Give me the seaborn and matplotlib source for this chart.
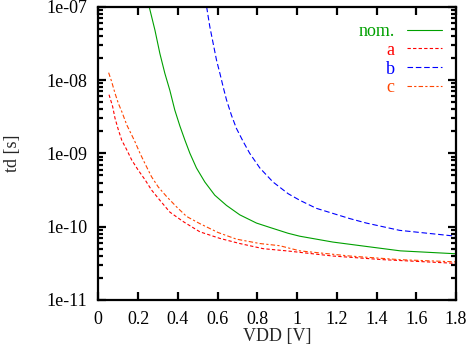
import numpy as np
import pandas as pd
import matplotlib
matplotlib.use("Agg")
import matplotlib.pyplot as plt
import matplotlib.ticker as mticker
import seaborn as sns

sns.set_style("ticks")
plt.rcParams['font.family'] = ['Liberation Serif', 'DejaVu Serif']
plt.rcParams['font.size'] = 13

# values (VDD in V, td in s)
vdd_nom = [0.256, 0.285, 0.31, 0.335, 0.36, 0.385, 0.411, 0.436, 0.461, 0.494, 0.536, 0.586, 0.645,
           0.712, 0.796, 0.863, 0.955, 1.014, 1.18, 1.35, 1.52, 1.8]
td_nom = [1.0e-7, 4.79e-8, 2.29e-8, 1.23e-8, 7.24e-9, 3.89e-9, 2.34e-9, 1.51e-9, 1.0e-9, 6.31e-10,
          4.07e-10, 2.69e-10, 1.95e-10, 1.45e-10, 1.12e-10, 9.77e-11, 8.13e-11, 7.41e-11, 6.17e-11,
          5.37e-11, 4.68e-11, 4.27e-11]

vdd_a = [0.054, 0.072, 0.084, 0.101, 0.118, 0.143, 0.168, 0.201, 0.235, 0.268, 0.31, 0.36, 0.428,
         0.511, 0.612, 0.712, 0.83, 0.947, 1.18, 1.432, 1.8]
td_a = [6.31e-9, 4.37e-9, 3.02e-9, 2.09e-9, 1.51e-9, 1.12e-9, 8.13e-10, 5.89e-10, 4.37e-10, 3.16e-10,
        2.29e-10, 1.58e-10, 1.17e-10, 8.51e-11, 6.92e-11, 5.89e-11, 5.01e-11, 4.68e-11, 3.98e-11,
        3.55e-11, 3.16e-11]

vdd_b = [0.545, 0.561, 0.578, 0.595, 0.612, 0.628, 0.645, 0.67, 0.695, 0.729, 0.762, 0.813, 0.879,
         0.955, 1.014, 1.097, 1.265, 1.349, 1.516, 1.8]
td_b = [1.0e-7, 5.37e-8, 3.16e-8, 1.86e-8, 1.23e-8, 8.13e-9, 5.37e-9, 3.31e-9, 2.19e-9, 1.45e-9,
        1.0e-9, 6.31e-10, 4.07e-10, 2.82e-10, 2.29e-10, 1.78e-10, 1.29e-10, 1.12e-10, 8.91e-11, 7.41e-11]

vdd_c = [0.052, 0.067, 0.084, 0.101, 0.118, 0.143, 0.168, 0.184, 0.21, 0.235, 0.268, 0.302, 0.344,
         0.394, 0.444, 0.511, 0.603, 0.695, 0.813, 0.913, 1.014, 1.265, 1.516, 1.8]
td_c = [1.26e-8, 9.55e-9, 6.61e-9, 4.79e-9, 3.72e-9, 2.45e-9, 1.78e-9, 1.45e-9, 1.0e-9, 7.24e-10,
        4.79e-10, 3.47e-10, 2.57e-10, 1.86e-10, 1.38e-10, 1.10e-10, 8.32e-11, 6.76e-11, 5.89e-11,
        5.50e-11, 4.68e-11, 3.98e-11, 3.55e-11, 3.31e-11]

cases = ['nom.', 'a', 'b', 'c']
colors = {'nom.': '#00a000', 'a': '#ff0000', 'b': '#0000ff', 'c': '#ff4500'}
dashes = {'nom.': '', 'a': (3, 2), 'b': (5, 2.5), 'c': (4, 2, 2, 2)}

df = pd.concat([
    pd.DataFrame({'VDD': vdd_nom, 'td': td_nom, 'case': 'nom.'}),
    pd.DataFrame({'VDD': vdd_a, 'td': td_a, 'case': 'a'}),
    pd.DataFrame({'VDD': vdd_b, 'td': td_b, 'case': 'b'}),
    pd.DataFrame({'VDD': vdd_c, 'td': td_c, 'case': 'c'}),
], ignore_index=True)

fig = plt.figure(figsize=(4.67, 3.46), dpi=100)
ax = fig.add_axes([98.3 / 467, 46 / 346, 357.7 / 467, 293.3 / 346])

sns.lineplot(data=df, x='VDD', y='td', hue='case', style='case', hue_order=cases, style_order=cases,
             palette=colors, dashes=dashes, sort=False, linewidth=0.8, ax=ax, legend=False)

ax.set_yscale('log')
ax.set_xlim(0, 1.8)
ax.set_ylim(1e-11, 1e-7)
ax.set_xticks(np.arange(0, 1.81, 0.2))
ax.xaxis.set_major_formatter(mticker.FuncFormatter(lambda v, p: ('%g' % round(v, 1))))
ax.yaxis.set_major_locator(mticker.LogLocator(base=10, numticks=10))
ax.yaxis.set_minor_locator(mticker.LogLocator(base=10, subs=np.arange(2, 10), numticks=20))
ax.yaxis.set_major_formatter(mticker.FuncFormatter(lambda v, p: '1e-%02d' % round(-np.log10(v))))
ax.yaxis.set_minor_formatter(mticker.NullFormatter())

ax.tick_params(which='both', direction='in', top=True, right=True, width=1.6, colors='black')
ax.tick_params(axis='x', which='major', length=6, pad=8)
ax.tick_params(axis='y', which='major', length=6, pad=8)
ax.tick_params(axis='y', which='minor', length=3.5)
for s in ax.spines.values():
    s.set_linewidth(1.6)
    s.set_color('black')

ax.set_xlabel('VDD [V]', labelpad=0)
ax.set_ylabel('td [s]', labelpad=18)

handles = [plt.Line2D([], [], color=colors[c], linewidth=0.8,
                      dashes=dashes[c] if dashes[c] else (None, None)) for c in cases]
leg = ax.legend(handles, cases, loc='upper right', bbox_to_anchor=(441.5 / 467, 1 - 23 / 346),
                bbox_transform=fig.transFigure, frameon=False, borderpad=0, borderaxespad=0,
                markerfirst=False, handlelength=1.9, handletextpad=0.7, labelspacing=0.1)
for t, c in zip(leg.get_texts(), cases):
    t.set_color(colors[c])

fig.savefig('out.png', dpi=100)
